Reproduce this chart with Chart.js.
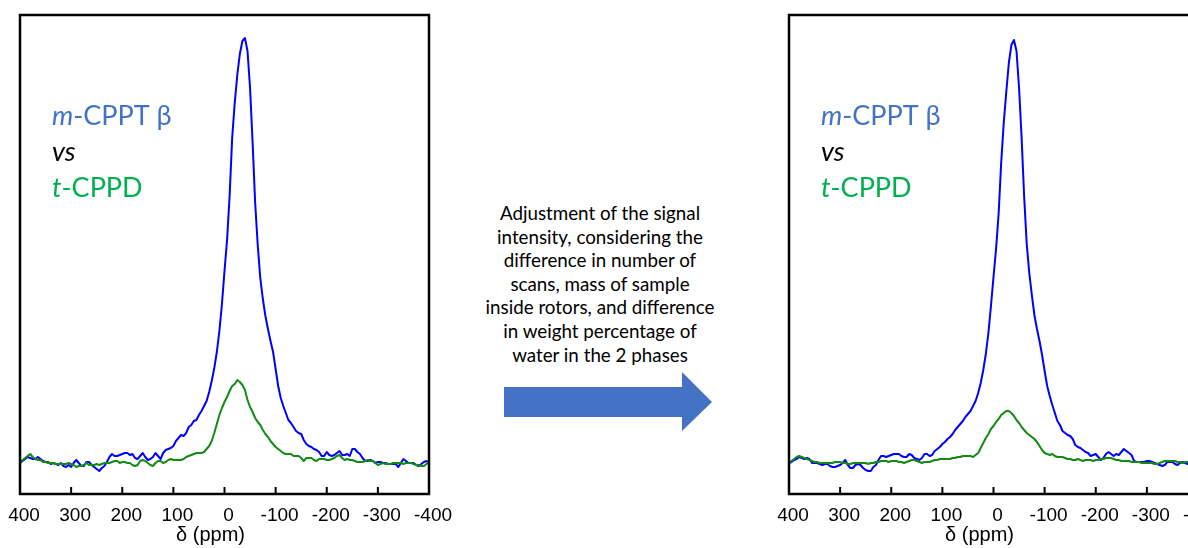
<!DOCTYPE html>
<html>
<head>
<meta charset="utf-8">
<script src="https://cdn.jsdelivr.net/npm/chart.js@4.4.0/dist/chart.umd.min.js"></script>
<style>
  html, body { margin: 0; padding: 0; background: #fff; overflow: hidden; }
  body { width: 1188px; height: 548px; position: relative; }
  canvas { position: absolute; top: 0; }
  #left { left: 0; }
  #right { left: 769px; }
  #arrow { position: absolute; left: 0; top: 0; }
  #note {
    position: absolute; left: 470px; top: 201px; width: 260px;
    text-align: center; color: #000;
    font: 18.8px Lato, "Open Sans", sans-serif; line-height: 23.6px;
  }
</style>
</head>
<body>
<svg id="arrow" width="1188" height="548">
  <polygon points="504,387 682,387 682,372 712,402 682,431 682,417 504,417" fill="#4472C4"/>
</svg>
<div id="note">Adjustment of the signal<br>intensity, considering the<br>difference in number of<br>scans, mass of sample<br>inside rotors, and difference<br>in weight percentage of<br>water in the 2 phases</div>
<canvas id="left" width="470" height="548"></canvas>
<canvas id="right" width="470" height="548"></canvas>
<script>
// chemical shift grid, 400 → -400 ppm in 5 ppm steps
const ppm = [
  400, 395, 390, 385, 380, 375, 370, 365, 360, 355,
  350, 345, 340, 335, 330, 325, 320, 315, 310, 305,
  300, 295, 290, 285, 280, 275, 270, 265, 260, 255,
  250, 245, 240, 235, 230, 225, 220, 215, 210, 205,
  200, 195, 190, 185, 180, 175, 170, 165, 160, 155,
  150, 145, 140, 135, 130, 125, 120, 115, 110, 105,
  100, 95, 90, 85, 80, 75, 70, 65, 60, 55,
  50, 45, 40, 35, 30, 25, 20, 15, 10, 5,
  0, -5, -10, -15, -20, -25, -30, -35, -40, -45,
  -50, -55, -60, -65, -70, -75, -80, -85, -90, -95,
  -100, -105, -110, -115, -120, -125, -130, -135, -140, -145,
  -150, -155, -160, -165, -170, -175, -180, -185, -190, -195,
  -200, -205, -210, -215, -220, -225, -230, -235, -240, -245,
  -250, -255, -260, -265, -270, -275, -280, -285, -290, -295,
  -300, -305, -310, -315, -320, -325, -330, -335, -340, -345,
  -350, -355, -360, -365, -370, -375, -380, -385, -390, -395,
  -400
];

// raw spectra (a.u.)
const mcpptRaw = [
  0, 2, 4, 6, 5, 4, 4, 6, 4, 2,
  1, 1, -1, 0, -1, -2, 0, -3, -4, -2,
  -4, 0, 3, 0, -3, -3, 1, 1, -2, -4,
  -6, -8, -5, -3, 1, 6, 9, 7, 7, 8,
  9, 10, 10, 8, 9, 5, 4, 7, 10, 6,
  3, 4, 6, 10, 7, 4, 10, 13, 14, 15,
  17, 22, 25, 28, 27, 30, 36, 38, 42, 43,
  48, 52, 57, 62, 71, 82, 95, 111, 132, 159,
  192, 223, 267, 325, 360, 388, 409, 422, 425, 412,
  375, 320, 260, 218, 185, 164, 147, 134, 122, 111,
  94, 77, 65, 57, 50, 43, 40, 36, 32, 30,
  29, 23, 19, 17, 16, 14, 13, 11, 7, 7,
  11, 8, 7, 8, 10, 12, 8, 8, 9, 7,
  14, 14, 11, 9, 5, 2, 2, 3, 2, 0,
  1, 1, 0, 0, -1, -1, -1, -1, -4, 0,
  4, 2, 0, 0, 0, -2, -3, -1, 1, 2,
  0
];
const tcppdRaw = [
  0, 3, 5, 7, 9, 6, 4, 3, 3, 1,
  1, 0, 0, 0, -1, -1, -1, -1, -1, 0,
  -1, -2, -4, -3, -3, -2, 0, -2, -2, -2,
  -1, -2, -1, 0, 0, 0, 1, 2, 2, 0,
  1, 1, 0, 0, -2, -3, -2, 2, 3, 2,
  0, -2, -3, 0, 2, 2, 0, 1, 3, 4,
  3, 3, 3, 3, 4, 6, 7, 8, 9, 10,
  10, 10, 11, 14, 17, 22, 30, 39, 48, 55,
  61, 66, 72, 77, 79, 83, 81, 78, 73, 63,
  56, 51, 45, 41, 38, 33, 29, 26, 22, 19,
  16, 14, 12, 10, 9, 9, 9, 7, 7, 7,
  5, 2, 5, 5, 5, 3, 2, 4, 4, 4,
  3, 3, 4, 5, 7, 8, 5, 3, 4, 3,
  3, 2, 1, 1, 1, 2, 3, 2, 2, 0,
  -2, -1, 0, -1, -1, -1, 0, 0, 0, 0,
  -1, 0, 0, 0, -1, -2, -2, -3, -3, -1,
  1
];

// spectra after intensity adjustment (a.u.)
const mcpptAdj = [
  0, 1, 3, 4, 6, 5, 4, 5, 4, 0,
  0, 0, -1, -2, -1, -1, -3, -4, -4, -3,
  -2, 0, 3, -2, -5, -5, -2, -1, -2, -5,
  -7, -8, -8, -4, -2, 3, 7, 7, 6, 7,
  8, 9, 9, 9, 7, 6, 6, 9, 8, 5,
  4, 3, 5, 9, 9, 7, 8, 12, 14, 16,
  19, 21, 24, 26, 29, 33, 36, 39, 42, 46,
  49, 52, 57, 62, 70, 80, 93, 109, 130, 157,
  186, 214, 249, 300, 340, 371, 400, 418, 423, 412,
  375, 325, 266, 219, 190, 168, 148, 134, 122, 108,
  92, 77, 67, 58, 50, 42, 38, 32, 30, 28,
  27, 24, 18, 16, 15, 13, 11, 10, 7, 8,
  9, 6, 3, 5, 9, 11, 9, 7, 9, 8,
  11, 14, 12, 10, 8, 2, 1, 1, 1, 1,
  2, 2, 1, 0, -1, -2, -3, -2, 1, 1,
  1, -1, -2, 0, 1, 0, -1, 0, 1, 0,
  1
];
const tcppdAdj = [
  0, 2, 4, 6, 7, 6, 5, 4, 3, 2,
  1, 1, 0, 0, 0, 0, 0, 0, 1, 1,
  1, 0, 0, -1, -1, 0, 0, 0, 0, 0,
  0, -1, 0, 0, 1, 1, 2, 2, 2, 1,
  2, 2, 2, 1, 1, 0, 1, 2, 3, 3,
  2, 1, 0, 1, 1, 1, 2, 3, 3, 4,
  4, 4, 4, 4, 5, 5, 6, 6, 7, 7,
  7, 7, 6, 8, 10, 15, 20, 25, 29, 34,
  37, 41, 44, 48, 50, 52, 52, 50, 47, 43,
  40, 36, 33, 30, 28, 26, 24, 21, 17, 13,
  10, 9, 8, 9, 7, 6, 6, 6, 5, 4,
  4, 3, 3, 4, 3, 2, 3, 3, 3, 2,
  3, 3, 4, 4, 5, 5, 5, 4, 3, 3,
  2, 2, 2, 2, 1, 1, 1, 1, 0, 0,
  0, 0, 0, -1, -1, 0, 1, 2, 2, 2,
  2, 2, 1, 1, 0, 1, 1, 1, 1, 0,
  0
];

const BLUE = '#0000ff';
const GREEN = '#138a13';
const TAG_FONT = 'Lato, "Open Sans", sans-serif';

function drawParts(ctx, x, y, parts) {
  parts.forEach(([text, style, color]) => {
    ctx.font = style + ' 27px ' + TAG_FONT;
    ctx.fillStyle = color;
    ctx.fillText(text, x, y);
    x += ctx.measureText(text).width;
  });
}

// box frame, inward ticks, axis title and sample tags
const framePlugin = {
  id: 'frame',
  afterDraw(chart) {
    const {ctx, chartArea: a, scales: {x}} = chart;
    ctx.save();
    ctx.strokeStyle = '#000';
    ctx.lineWidth = 2.5;
    ctx.strokeRect(a.left, a.top, a.right - a.left, a.bottom - a.top);

    ctx.lineWidth = 2;
    x.ticks.forEach(t => {
      const px = x.getPixelForValue(t.value);
      if (px < a.left + 2 || px > a.right - 2) return;
      ctx.beginPath();
      ctx.moveTo(px, a.bottom);
      ctx.lineTo(px, a.bottom - 7);
      ctx.stroke();
    });

    ctx.fillStyle = '#000';
    ctx.font = '20px "Liberation Sans", Arial, sans-serif';
    ctx.textAlign = 'center';
    ctx.textBaseline = 'middle';
    ctx.fillText('δ (ppm)', (a.left + a.right) / 2 - 14, a.bottom + 41);

    ctx.textAlign = 'left';
    ctx.textBaseline = 'alphabetic';
    const tx = a.left + 32;
    drawParts(ctx, tx, a.top + 110, [['m', 'italic', '#4472C4'], ['-CPPT β', 'normal', '#4472C4']]);
    drawParts(ctx, tx, a.top + 146, [['vs', 'italic', '#000']]);
    drawParts(ctx, tx, a.top + 182, [['t', 'italic', '#00B050'], ['-CPPD', 'normal', '#00B050']]);
    ctx.restore();
  }
};

function makeChart(id, blue, green) {
  return new Chart(document.getElementById(id), {
    type: 'line',
    data: {
      datasets: [{
        label: 'm-CPPT β',
        data: ppm.map((v, i) => ({x: v, y: blue[i]})),
        borderColor: BLUE,
        borderWidth: 2,
        order: 1
      }, {
        label: 't-CPPD',
        data: ppm.map((v, i) => ({x: v, y: green[i]})),
        borderColor: GREEN,
        borderWidth: 2,
        order: 0
      }]
    },
    options: {
      responsive: false,
      animation: false,
      events: [],
      layout: { padding: { left: 20, right: 41, top: 15, bottom: 0 } },
      elements: {
        point: { radius: 0 },
        line: { tension: 0, borderJoinStyle: 'round', fill: false }
      },
      plugins: { legend: { display: false }, tooltip: { enabled: false } },
      scales: {
        x: {
          type: 'linear',
          min: -400,
          max: 400,
          reverse: true,
          afterFit: s => { s.height = 54; },
          // tick marks are drawn inside the frame by the plugin; the
          // hidden tick length only spaces the labels below the axis
          grid: { display: false, drawTicks: true, tickLength: 10 },
          border: { display: false },
          ticks: {
            stepSize: 100,
            autoSkip: false,
            maxRotation: 0,
            padding: 0,
            labelOffset: 4,
            color: '#000',
            font: { family: '"Liberation Sans", Arial, sans-serif', size: 19 }
          }
        },
        y: {
          display: false,
          min: -31,
          max: 448
        }
      }
    },
    plugins: [framePlugin]
  });
}

const leftChart = makeChart('left', mcpptRaw, tcppdRaw),
      rightChart = makeChart('right', mcpptAdj, tcppdAdj);
</script>
</body>
</html>
